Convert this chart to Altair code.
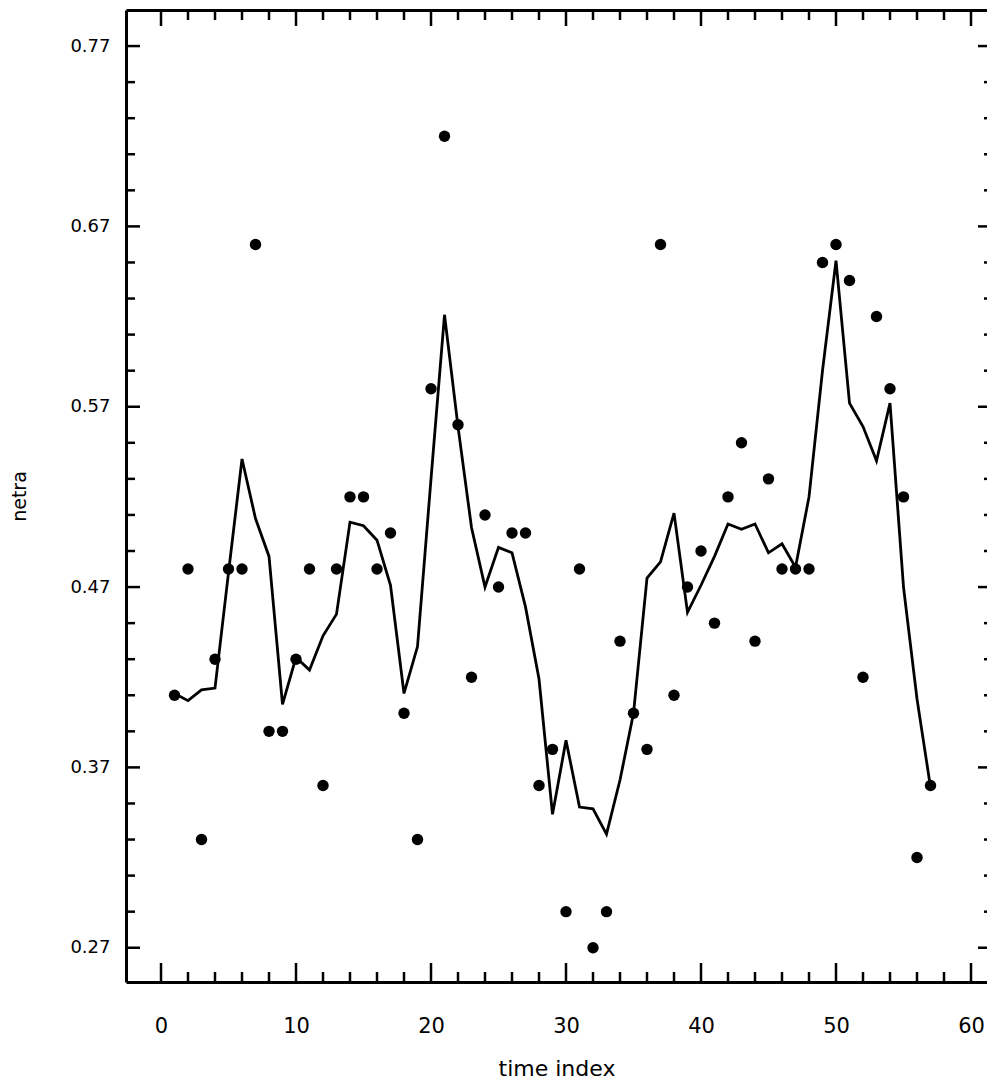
import altair as alt
import pandas as pd

# time index and observed values (dots)
t_index = list(range(1, 58))
observed = [
    0.41, 0.48, 0.33, 0.43, 0.48, 0.48, 0.66, 0.39, 0.39, 0.43,
    0.48, 0.36, 0.48, 0.52, 0.52, 0.48, 0.50, 0.40, 0.33, 0.58,
    0.72, 0.56, 0.42, 0.51, 0.47, 0.50, 0.50, 0.36, 0.38, 0.29,
    0.48, 0.27, 0.29, 0.44, 0.40, 0.38, 0.66, 0.41, 0.47, 0.49,
    0.45, 0.52, 0.55, 0.44, 0.53, 0.48, 0.48, 0.48, 0.65, 0.66,
    0.64, 0.42, 0.62, 0.58, 0.52, 0.32, 0.36,
]
# fitted curve (solid line)
fitted = [
    0.411, 0.407, 0.413, 0.414, 0.478, 0.541, 0.508, 0.487, 0.405, 0.431,
    0.424, 0.443, 0.455, 0.506, 0.504, 0.496, 0.471, 0.411, 0.437, 0.530,
    0.621, 0.559, 0.503, 0.470, 0.492, 0.489, 0.459, 0.419, 0.344, 0.385,
    0.348, 0.347, 0.333, 0.363, 0.400, 0.475, 0.484, 0.511, 0.456, 0.471,
    0.487, 0.505, 0.502, 0.505, 0.489, 0.494, 0.481, 0.520, 0.590, 0.651,
    0.572, 0.559, 0.540, 0.572, 0.470, 0.408, 0.359,
]

# axis tick positions
x_labels = [0, 10, 20, 30, 40, 50, 60]
x_minor = [v for v in range(2, 60, 2) if v % 10 != 0]
y_labels = [0.27, 0.37, 0.47, 0.57, 0.67, 0.77]
y_minor = [round(0.27 + 0.02 * k, 2) for k in range(1, 25) if k % 5 != 0]

W, H = 861, 972
FONT = "DejaVu Sans"

df = pd.DataFrame({"t": t_index, "obs": observed, "fit": fitted})

xs = alt.Scale(domain=[-2.593, 61.185], nice=False, zero=False)
ys = alt.Scale(domain=[0.251, 0.790], nice=False, zero=False)

bottom_axis = alt.Axis(
    orient="bottom", values=x_labels, format="d", ticks=False, grid=False,
    domain=True, domainColor="black", domainWidth=3,
    labelFont=FONT, labelFontSize=21, labelColor="black", labelPadding=33,
    title="time index", titleFont=FONT, titleFontSize=22,
    titleFontWeight="normal", titleColor="black", titlePadding=22,
)
top_axis = alt.Axis(
    orient="top", ticks=False, labels=False, grid=False, title=None,
    domain=True, domainColor="black", domainWidth=3,
)
left_axis = alt.Axis(
    orient="left", values=y_labels, format=".2f", ticks=False, grid=False,
    domain=True, domainColor="black", domainWidth=3,
    labelFont=FONT, labelFontSize=18, labelColor="black", labelPadding=16,
    title="netra", titleFont=FONT, titleFontSize=19,
    titleFontWeight="normal", titleColor="black", titlePadding=40,
)

points = (
    alt.Chart(df)
    .mark_circle(size=130, color="black", opacity=1)
    .encode(
        x=alt.X("t:Q", scale=xs, axis=bottom_axis),
        y=alt.Y("obs:Q", scale=ys, axis=left_axis),
    )
)

fit_line = (
    alt.Chart(df)
    .mark_line(color="black", strokeWidth=2.8)
    .encode(
        x=alt.X("t:Q", scale=xs, axis=top_axis),
        y=alt.Y("fit:Q", scale=ys, axis=None),
    )
)


def x_ticks(values, y_from, y_to):
    return (
        alt.Chart(pd.DataFrame({"v": values}))
        .mark_rule(color="black", strokeWidth=2.5)
        .encode(
            x=alt.X("v:Q", scale=xs, axis=None),
            y=alt.value(y_from),
            y2=alt.value(y_to),
        )
    )


def y_ticks(values, x_from, x_to):
    return (
        alt.Chart(pd.DataFrame({"v": values}))
        .mark_rule(color="black", strokeWidth=2.5)
        .encode(
            y=alt.Y("v:Q", scale=ys, axis=None),
            x=alt.value(x_from),
            x2=alt.value(x_to),
        )
    )


# inward ticks on all four sides
ticks = [
    x_ticks(x_labels, H, H - 19),
    x_ticks(x_minor, H, H - 10),
    x_ticks(x_labels, 0, 16),
    x_ticks(x_minor, 0, 10),
    y_ticks(y_labels, 0, 14),
    y_ticks(y_minor, 0, 9),
    y_ticks(y_labels, W, W - 9),
    y_ticks(y_minor, W, W - 3),
]

chart = (
    alt.layer(points, fit_line, *ticks)
    .resolve_axis(x="independent", y="independent")
    .properties(
        width=W,
        height=H,
        autosize=alt.AutoSizeParams(type="none"),
        padding={"left": 118, "top": 2, "right": 0, "bottom": 97},
        background="white",
    )
    .configure_view(strokeWidth=0)
)

chart.save("out.html", embed_options={"renderer": "svg", "actions": False})
